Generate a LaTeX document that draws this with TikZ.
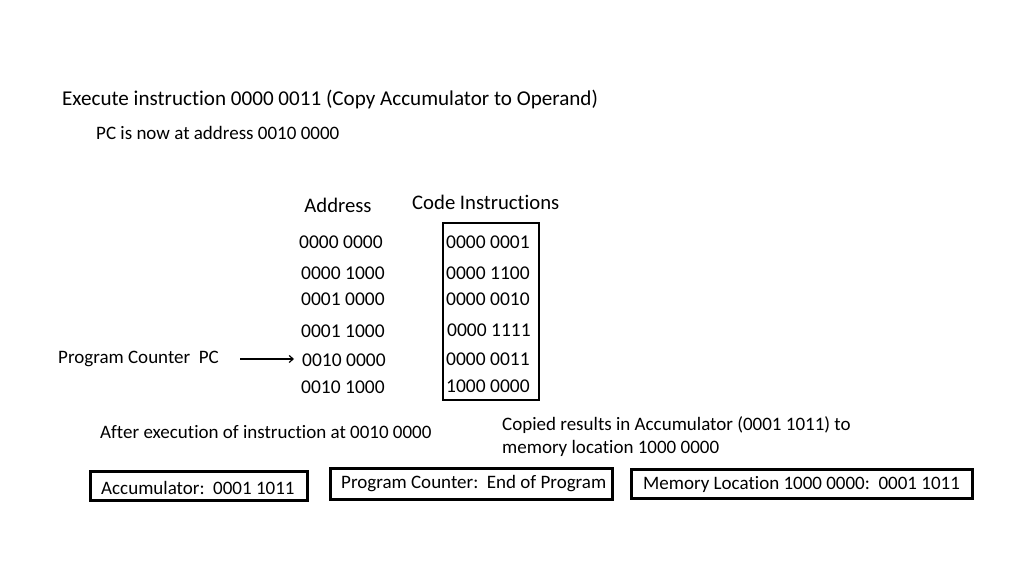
\documentclass[tikz,border=0pt]{standalone}
\usepackage{fontspec}
\setmainfont[Ligatures=NoCommon]{Carlito}
\usetikzlibrary{arrows.meta}
\begin{document}
\begin{tikzpicture}[x=1pt,y=-1pt,
  base/.style={inner sep=0pt,anchor=west,yshift=-1.5pt},
  txt/.style={base,font=\fontsize{19}{22}\selectfont},
  big/.style={base,font=\fontsize{21.1}{25}\selectfont},
  head/.style={base,font=\fontsize{20.7}{24}\selectfont},
  num/.style={base,font=\fontsize{19.5}{22}\selectfont},
  bxline/.style={line width=3pt}]
\useasboundingbox[fill=white] (0,0) rectangle (1013,564);
\node[big] (title) at (62,98) {Execute instruction 0000 0011 (Copy Accumulator to Operand)};
\node[txt] (pcnow) at (96,131) {PC is now at address 0010 0000};
\node[head,anchor=center] (addr) at (338,204) {Address};
\node[head] (code) at (412,201) {Code Instructions};
\node[num] (a1) at (299,241) {0000 0000};
\node[num] (a2) at (301,272) {0000 1000};
\node[num] (a3) at (301,298) {0001 0000};
\node[num] (a4) at (301,330) {0001 1000};
\node[num] (a5) at (302,359) {0010 0000};
\node[num] (a6) at (301,386) {0010 1000};
\node[num] (c1) at (446,241) {0000 0001};
\node[num] (c2) at (446,272) {0000 1100};
\node[num] (c3) at (446,298) {0000 0010};
\node[num] (c4) at (447,329) {0000 1111};
\node[num] (c5) at (446,358) {0000 0011};
\node[num] (c6) at (446,385) {1000 0000};
\draw[line width=2pt] (443,223) rectangle (539,400);
\node[txt] (pc) at (58,357) {Program Counter\ \ PC};
\coordinate (arrstart) at (240,359);
\draw[line width=1.2pt,-{Straight Barb[length=4pt,width=7pt]}] (arrstart) -- ([xshift=-8pt]a5.west |- arrstart);
\node[txt] (after) at (100,431) {After execution of instruction at 0010 0000};
\node[txt] (cop1) at (502,424) {Copied results in Accumulator (0001 1011) to};
\node[txt] (cop2) at (502,447) {memory location 1000 0000};
\draw[bxline] (90,471) rectangle (307,500);
\node[txt] (acc) at (101,486) {Accumulator:\ \ 0001 1011};
\draw[bxline] (330,468) rectangle (612,499);
\node[txt] (prog) at (341,482) {Program Counter:\ \ End of Program};
\draw[bxline] (631,469) rectangle (972,498);
\node[txt] (mem) at (643,483) {Memory Location 1000 0000:\ \ 0001 1011};
\end{tikzpicture}
\end{document}
